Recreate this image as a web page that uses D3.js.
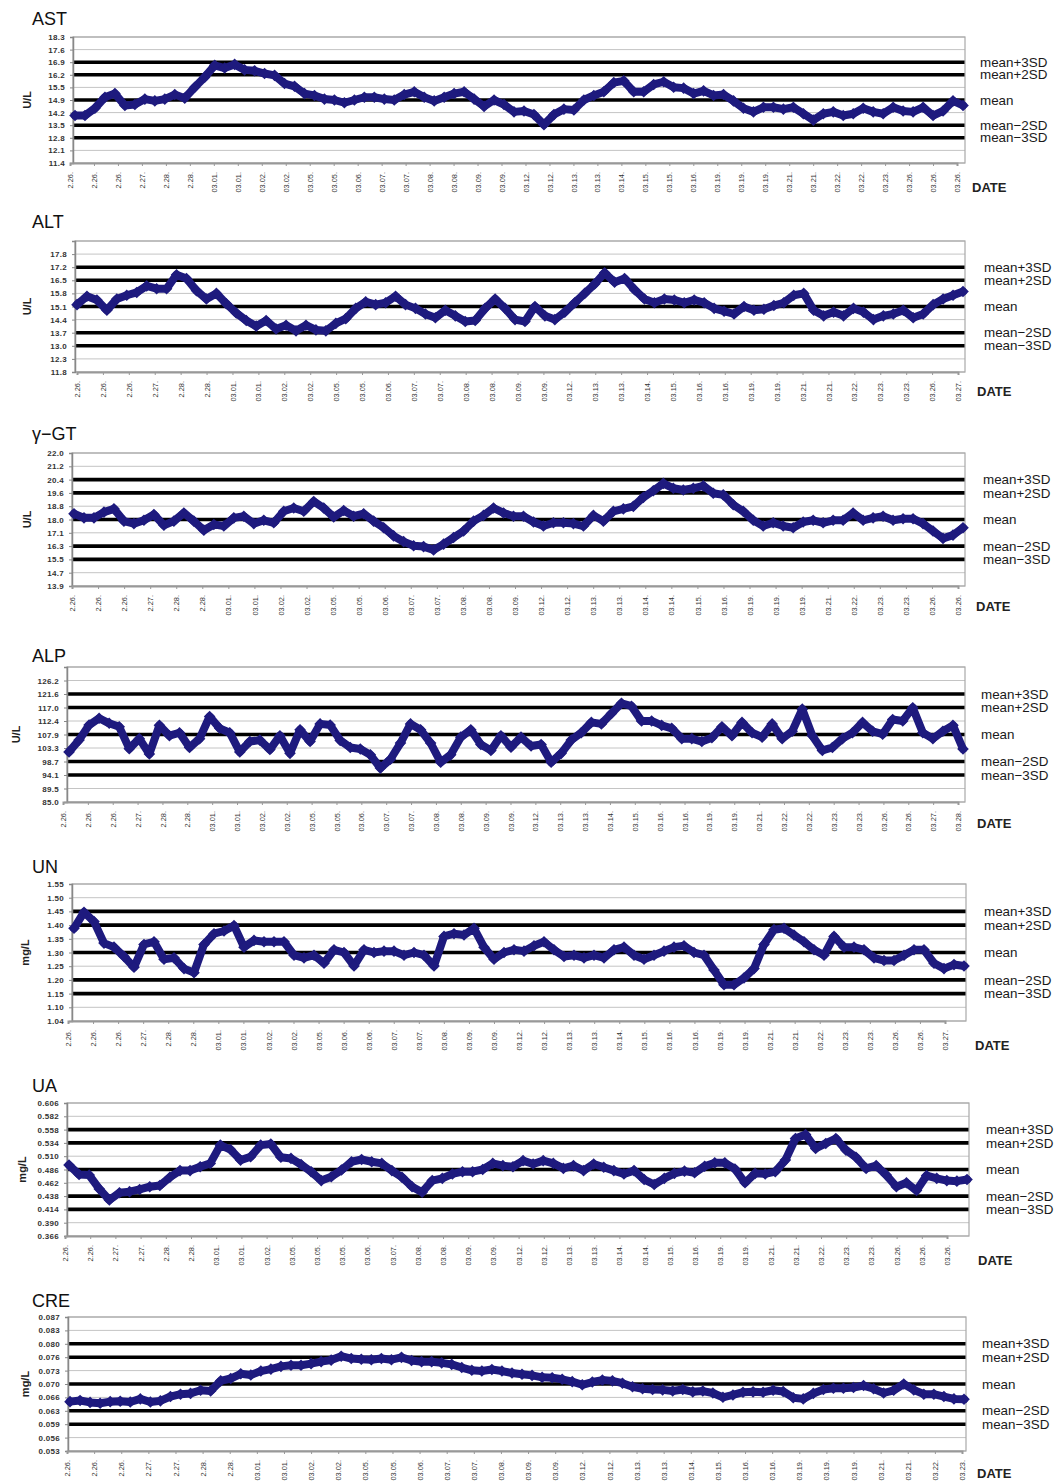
<!DOCTYPE html>
<html>
<head>
<meta charset="utf-8">
<script src="https://cdn.jsdelivr.net/npm/d3@7"></script>
<style>
  body { margin: 0; background: #fff; }
  svg { display: block; font-family: "Liberation Sans", Arial, sans-serif; }
</style>
</head>
<body>
<svg id="chart" width="1062" height="1483"></svg>
<script>
// ---- control-chart values (one reading per run, in order) ----
const astValues = [14.0,14.0,14.4,15.0,15.2,14.55,14.6,14.9,14.8,14.9,15.15,14.95,15.55,16.1,16.75,16.6,16.8,16.5,16.45,16.3,16.2,15.75,15.6,15.2,15.1,14.9,14.85,14.7,14.85,15.0,15.0,14.9,14.85,15.15,15.3,15.0,14.8,15.0,15.2,15.3,14.9,14.5,14.85,14.6,14.2,14.25,14.05,13.5,14.05,14.35,14.3,14.85,15.1,15.3,15.8,15.9,15.3,15.3,15.7,15.85,15.55,15.5,15.2,15.35,15.1,15.15,14.8,14.4,14.2,14.45,14.45,14.35,14.45,14.1,13.75,14.1,14.2,14.0,14.1,14.4,14.2,14.1,14.45,14.25,14.2,14.45,14.0,14.25,14.8,14.55];
const altValues = [15.2,15.65,15.45,14.9,15.5,15.7,15.85,16.2,16.05,16.05,16.8,16.6,15.95,15.5,15.8,15.25,14.75,14.35,14.05,14.35,13.9,14.1,13.8,14.1,13.85,13.8,14.2,14.45,15.0,15.35,15.2,15.3,15.65,15.2,15.0,14.7,14.5,14.9,14.6,14.3,14.35,15.0,15.5,15.0,14.4,14.3,15.1,14.6,14.4,14.8,15.3,15.8,16.3,16.9,16.4,16.6,16.0,15.5,15.3,15.5,15.45,15.3,15.45,15.3,15.0,14.85,14.7,15.1,14.9,14.95,15.15,15.3,15.7,15.8,14.9,14.6,14.8,14.6,15.0,14.8,14.4,14.6,14.7,14.9,14.5,14.7,15.2,15.5,15.7,15.9];
const ggtValues = [18.35,18.1,18.1,18.45,18.65,17.9,17.75,17.95,18.3,17.65,17.9,18.4,17.9,17.35,17.7,17.6,18.1,18.2,17.75,17.95,17.8,18.5,18.7,18.5,19.1,18.7,18.15,18.55,18.2,18.35,17.9,17.5,17.0,16.65,16.4,16.35,16.15,16.5,16.9,17.3,17.9,18.25,18.7,18.4,18.2,18.2,17.85,17.6,17.8,17.8,17.75,17.6,18.25,17.9,18.5,18.65,18.8,19.35,19.75,20.2,19.9,19.8,19.9,20.05,19.6,19.5,18.9,18.5,17.95,17.6,17.8,17.6,17.5,17.85,17.95,17.8,17.95,17.95,18.4,17.95,18.1,18.2,17.95,18.05,18.05,17.75,17.3,16.85,17.05,17.5];
const alpValues = [102.0,106.0,111.1,113.4,111.7,110.5,103.1,106.5,101.3,111.0,107.5,108.5,103.5,106.5,114.0,110.0,108.5,102.0,105.5,106.0,102.8,107.5,101.5,109.5,105.5,111.5,111.1,105.9,103.5,103.0,101.0,96.5,99.5,105.0,111.5,109.5,105.0,98.5,101.0,107.0,109.5,104.5,102.5,107.5,103.6,107.0,104.0,104.5,98.5,101.5,106.0,108.5,112.0,111.5,115.0,118.5,117.5,112.5,112.5,111.0,110.0,106.5,106.5,105.5,106.8,110.5,107.5,112.0,108.5,107.0,111.5,106.5,109.0,116.5,107.5,102.5,103.5,106.5,108.5,112.0,109.0,108.0,113.0,112.5,117.0,108.5,106.5,109.0,111.0,103.0];
const unValues = [1.39,1.45,1.415,1.335,1.32,1.285,1.245,1.33,1.34,1.275,1.28,1.24,1.225,1.33,1.37,1.38,1.40,1.32,1.345,1.34,1.34,1.34,1.29,1.28,1.29,1.26,1.31,1.30,1.25,1.31,1.30,1.305,1.305,1.29,1.30,1.29,1.25,1.36,1.37,1.365,1.39,1.32,1.275,1.30,1.31,1.305,1.325,1.34,1.31,1.285,1.29,1.28,1.29,1.28,1.31,1.32,1.29,1.275,1.29,1.305,1.32,1.325,1.30,1.29,1.235,1.18,1.18,1.205,1.24,1.33,1.385,1.39,1.365,1.34,1.31,1.29,1.36,1.32,1.32,1.31,1.28,1.27,1.27,1.29,1.31,1.31,1.26,1.24,1.255,1.25];
const uaValues = [0.494,0.477,0.476,0.451,0.431,0.444,0.446,0.450,0.455,0.457,0.472,0.484,0.484,0.491,0.497,0.530,0.522,0.503,0.509,0.530,0.532,0.508,0.506,0.495,0.482,0.466,0.473,0.485,0.500,0.504,0.500,0.497,0.484,0.472,0.455,0.445,0.466,0.470,0.478,0.482,0.482,0.486,0.497,0.493,0.491,0.502,0.496,0.502,0.497,0.488,0.493,0.484,0.496,0.490,0.484,0.478,0.484,0.468,0.459,0.470,0.479,0.483,0.480,0.492,0.498,0.498,0.487,0.462,0.479,0.478,0.482,0.503,0.542,0.549,0.524,0.533,0.542,0.521,0.508,0.488,0.493,0.476,0.455,0.462,0.448,0.475,0.470,0.466,0.465,0.468];
const creValues = [0.0655,0.0658,0.0653,0.0651,0.0655,0.0656,0.0654,0.0662,0.0654,0.0657,0.0668,0.0674,0.0676,0.0684,0.0682,0.0708,0.0714,0.0726,0.0723,0.0733,0.0738,0.0745,0.0748,0.0748,0.0752,0.0757,0.0761,0.0771,0.0765,0.0763,0.0762,0.0765,0.0762,0.0768,0.0760,0.0757,0.0757,0.0754,0.0750,0.0742,0.0735,0.0733,0.0737,0.0733,0.0728,0.0725,0.0722,0.0717,0.0716,0.0712,0.0706,0.0698,0.0705,0.0710,0.0708,0.0702,0.0693,0.0688,0.0686,0.0685,0.0682,0.0686,0.0680,0.0682,0.0677,0.0666,0.0672,0.0679,0.0680,0.0679,0.0684,0.0681,0.0665,0.0662,0.0676,0.0686,0.0689,0.0689,0.0691,0.0696,0.0688,0.0677,0.0684,0.0700,0.0685,0.0674,0.0674,0.0668,0.0662,0.0661];

// ---- y-axis tick labels, bottom to top (11 gridlines) ----
const astTicks = ["11.4","12.1","12.8","13.5","14.2","14.9","15.5","16.2","16.9","17.6","18.3"];
const altTicks = ["11.8","12.3","13.0","13.7","14.4","15.1","15.8","16.5","17.2","17.8",""];
const ggtTicks = ["13.9","14.7","15.5","16.3","17.1","18.0","18.8","19.6","20.4","21.2","22.0"];
const alpTicks = ["85.0","89.5","94.1","98.7","103.3","107.9","112.4","117.0","121.6","126.2",""];
const unTicks  = ["1.04","1.10","1.15","1.20","1.25","1.30","1.35","1.40","1.45","1.50","1.55"];
const uaTicks  = ["0.366","0.390","0.414","0.438","0.462","0.486","0.510","0.534","0.558","0.582","0.606"];
const creTicks = ["0.053","0.056","0.059","0.063","0.066","0.070","0.073","0.076","0.080","0.083","0.087"];

// ---- gridline scales: lowest gridline value and gridline spacing ----
const astGrid = [11.4, 0.69];
const altGrid = [11.6, 0.70];
const ggtGrid = [13.95, 0.81];
const alpGrid = [85.0, 4.58];
const unGrid  = [1.045, 0.051];
const uaGrid  = [0.366, 0.024];
const creGrid = [0.0529, 0.00342];

// ---- run dates shown on the category axis ----
const astDates = ["2.26.","2.26.","2.26.","2.27.","2.28.","2.28.","03.01.","03.01.","03.02.","03.02.","03.05.","03.05.","03.06.","03.07.","03.07.","03.08.","03.08.","03.09.","03.09.","03.12.","03.12.","03.13.","03.13.","03.14.","03.15.","03.15.","03.16.","03.19.","03.19.","03.19.","03.21.","03.21.","03.22.","03.22.","03.23.","03.26.","03.26.","03.26."];
const altDates = ["2.26.","2.26.","2.26.","2.27.","2.28.","2.28.","03.01.","03.01.","03.02.","03.02.","03.05.","03.05.","03.06.","03.07.","03.07.","03.08.","03.08.","03.09.","03.09.","03.12.","03.13.","03.13.","03.14.","03.15.","03.16.","03.16.","03.19.","03.19.","03.21.","03.21.","03.22.","03.23.","03.23.","03.26.","03.27."];
const ggtDates = ["2.26.","2.26.","2.26.","2.27.","2.28.","2.28.","03.01.","03.01.","03.02.","03.02.","03.05.","03.05.","03.06.","03.07.","03.07.","03.08.","03.08.","03.09.","03.12.","03.12.","03.13.","03.13.","03.14.","03.14.","03.15.","03.16.","03.19.","03.19.","03.19.","03.21.","03.22.","03.23.","03.23.","03.26.","03.26."];
const alpDates = ["2.26.","2.26.","2.26.","2.27.","2.28.","2.28.","03.01.","03.01.","03.02.","03.02.","03.05.","03.05.","03.06.","03.07.","03.07.","03.08.","03.08.","03.09.","03.09.","03.12.","03.13.","03.13.","03.14.","03.15.","03.16.","03.16.","03.19.","03.19.","03.21.","03.22.","03.22.","03.23.","03.23.","03.26.","03.26.","03.27.","03.28."];
const unDates  = ["2.26.","2.26.","2.26.","2.27.","2.28.","2.28.","03.01.","03.01.","03.02.","03.02.","03.05.","03.06.","03.06.","03.07.","03.07.","03.08.","03.09.","03.09.","03.12.","03.12.","03.13.","03.13.","03.14.","03.15.","03.16.","03.16.","03.19.","03.19.","03.21.","03.21.","03.22.","03.23.","03.23.","03.26.","03.26.","03.27."];
const uaDates  = ["2.26.","2.26.","2.27.","2.27.","2.28.","2.28.","03.01.","03.01.","03.02.","03.05.","03.05.","03.05.","03.06.","03.07.","03.08.","03.08.","03.09.","03.09.","03.12.","03.12.","03.13.","03.13.","03.14.","03.14.","03.15.","03.16.","03.19.","03.19.","03.21.","03.21.","03.22.","03.23.","03.23.","03.26.","03.26.","03.26."];
const creDates = ["2.26.","2.26.","2.26.","2.27.","2.27.","2.28.","2.28.","03.01.","03.01.","03.02.","03.02.","03.05.","03.05.","03.06.","03.07.","03.07.","03.08.","03.09.","03.09.","03.12.","03.12.","03.13.","03.13.","03.14.","03.15.","03.16.","03.16.","03.19.","03.19.","03.19.","03.21.","03.21.","03.22.","03.23."];

// control limits sit on gridlines: mean at 5, ±2SD at 7/3, ±3SD at 8/2
const limitIndex = [8, 7, 5, 3, 2];
const limitNames = ["mean+3SD", "mean+2SD", "mean", "mean\u22122SD", "mean\u22123SD"];

const SERIES = "#1e1a7e";

// panel frames (pixel layout)
const panels = [
  { title: "AST",        unit: "U/L",  values: astValues, ticks: astTicks, grid: astGrid, dates: astDates,
    x0: 73, x1: 965, y0: 37,   y1: 163,  lab0: 70, lab1: 957, titleY: 25,   unitX: 27, refX: 980, dateX: 972, dateY: 192 },
  { title: "ALT",        unit: "U/L",  values: altValues, ticks: altTicks, grid: altGrid, dates: altDates,
    x0: 75, x1: 965, y0: 241,  y1: 372,  lab0: 77, lab1: 958, titleY: 228,  unitX: 27, refX: 984, dateX: 977, dateY: 396 },
  { title: "\u03b3\u2212GT", unit: "U/L", values: ggtValues, ticks: ggtTicks, grid: ggtGrid, dates: ggtDates,
    x0: 72, x1: 965, y0: 453,  y1: 586,  lab0: 72, lab1: 958, titleY: 440,  unitX: 27, refX: 983, dateX: 976, dateY: 611 },
  { title: "ALP",        unit: "U/L",  values: alpValues, ticks: alpTicks, grid: alpGrid, dates: alpDates,
    x0: 67, x1: 965, y0: 667,  y1: 802,  lab0: 63, lab1: 958, titleY: 662,  unitX: 16, refX: 981, dateX: 977, dateY: 828 },
  { title: "UN",         unit: "mg/L", values: unValues,  ticks: unTicks,  grid: unGrid,  dates: unDates,
    x0: 72, x1: 966, y0: 884,  y1: 1021, lab0: 68, lab1: 945, titleY: 873,  unitX: 25, refX: 984, dateX: 975, dateY: 1050 },
  { title: "UA",         unit: "mg/L", values: uaValues,  ticks: uaTicks,  grid: uaGrid,  dates: uaDates,
    x0: 67, x1: 969, y0: 1103, y1: 1236, lab0: 65, lab1: 947, titleY: 1092, unitX: 22, refX: 986, dateX: 978, dateY: 1265 },
  { title: "CRE",        unit: "mg/L", values: creValues, ticks: creTicks, grid: creGrid, dates: creDates,
    x0: 68, x1: 966, y0: 1317, y1: 1451, lab0: 67, lab1: 962, titleY: 1307, unitX: 25, refX: 982, dateX: 977, dateY: 1478 }
];

const svg = d3.select("#chart");
const diamond = "M0,-5.8L5.8,0L0,5.8L-5.8,0Z";

panels.forEach(p => {
  const g = svg.append("g");
  const [lo, step] = p.grid;
  const gridVals = d3.range(11).map(i => lo + i * step);

  const y = d3.scaleLinear().domain([lo, lo + 10 * step]).range([p.y1, p.y0]);
  const x = d3.scaleLinear().domain([0, p.values.length - 1]).range([p.x0 + 2, p.x1 - 2]);
  const xd = d3.scalePoint().domain(d3.range(p.dates.length)).range([p.lab0, p.lab1]);

  // title and unit
  g.append("text").attr("x", 32).attr("y", p.titleY)
    .attr("font-size", 18).attr("fill", "#111").text(p.title);
  g.append("text")
    .attr("transform", `translate(${p.unitX},${(p.y0 + p.y1) / 2}) rotate(-90)`)
    .attr("text-anchor", "middle").attr("dy", "0.35em")
    .attr("font-size", 11).attr("font-weight", "bold").attr("fill", "#222").text(p.unit);

  // thin gridlines
  g.append("g").selectAll("line").data(gridVals).join("line")
    .attr("x1", p.x0).attr("x2", p.x1)
    .attr("y1", d => y(d)).attr("y2", d => y(d))
    .attr("stroke", "#c4c4c4").attr("stroke-width", 1);

  // control limits
  g.append("g").selectAll("line").data(limitIndex).join("line")
    .attr("x1", p.x0).attr("x2", p.x1)
    .attr("y1", i => y(gridVals[i])).attr("y2", i => y(gridVals[i]))
    .attr("stroke", "#000").attr("stroke-width", 3.6);

  // plot frame
  g.append("rect").attr("x", p.x0).attr("y", p.y0)
    .attr("width", p.x1 - p.x0).attr("height", p.y1 - p.y0)
    .attr("fill", "none").attr("stroke", "#a8a8a8").attr("stroke-width", 1.2);

  // y axis
  const ya = g.append("g").attr("transform", `translate(${p.x0},0)`)
    .call(d3.axisLeft(y).tickValues(gridVals).tickSize(3).tickPadding(5)
      .tickFormat((d, i) => p.ticks[i]));
  ya.select(".domain").attr("stroke", "#888").attr("stroke-width", 1.5);
  ya.selectAll(".tick line").attr("stroke", "#888");
  ya.selectAll("text").attr("font-size", 8).attr("font-weight", "bold")
    .attr("letter-spacing", 0.3)
    .attr("fill", "#333").attr("font-family", "'Liberation Sans', Arial, sans-serif");

  // category (date) axis
  const xa = g.append("g").attr("transform", `translate(0,${p.y1})`)
    .call(d3.axisBottom(xd).tickSize(3).tickFormat(i => p.dates[i]));
  xa.select(".domain").attr("stroke", "#999").attr("stroke-width", 2);
  xa.selectAll(".tick line").attr("stroke", "#999");
  xa.selectAll("text")
    .attr("transform", "rotate(-90)")
    .attr("x", -9).attr("y", 0).attr("dy", "0.35em")
    .style("text-anchor", "end")
    .attr("font-size", 7.4).attr("fill", "#333")
    .attr("font-family", "'Liberation Sans', Arial, sans-serif");

  // series: connecting line plus diamond markers
  g.append("path").datum(p.values)
    .attr("d", d3.line().x((d, i) => x(i)).y(d => y(d)))
    .attr("fill", "none").attr("stroke", SERIES)
    .attr("stroke-width", 8).attr("stroke-linejoin", "round").attr("stroke-linecap", "round");
  g.append("g").selectAll("path").data(p.values).join("path")
    .attr("transform", (d, i) => `translate(${x(i)},${y(d)})`)
    .attr("d", diamond).attr("fill", SERIES);

  // limit names on the right
  g.append("g").selectAll("text").data(limitIndex).join("text")
    .attr("x", p.refX).attr("y", i => y(gridVals[i])).attr("dy", "0.35em")
    .attr("font-size", 13.4).attr("fill", "#1a1a1a")
    .text((i, k) => limitNames[k]);

  g.append("text").attr("x", p.dateX).attr("y", p.dateY)
    .attr("font-size", 13).attr("font-weight", "bold").attr("fill", "#222").text("DATE");
});
</script>
</body>
</html>
